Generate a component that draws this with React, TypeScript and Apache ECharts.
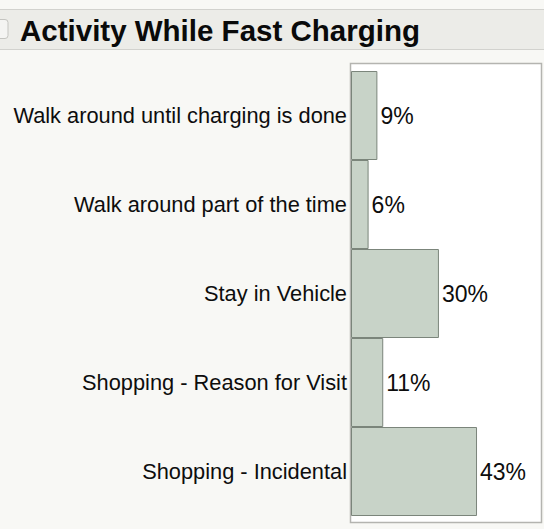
import React, { useEffect, useRef } from "react";
import * as echarts from "echarts";

const titleText = "Activity While Fast Charging";
const categories = [
  "Walk around until charging is done",
  "Walk around part of the time",
  "Stay in Vehicle",
  "Shopping - Reason for Visit",
  "Shopping - Incidental",
];
const percentValues = [9, 6, 30, 11, 43];
const axisMax = 65;

const FONT = "'Liberation Sans', Arial, Helvetica, sans-serif";

export default function App() {
  const ref = useRef<HTMLDivElement>(null);
  useEffect(() => {
    if (!ref.current) return;
    const chart = echarts.init(ref.current, undefined, { renderer: "svg" });
    chart.setOption({
      animation: false,
      backgroundColor: "#f8f8f5",
      textStyle: { fontFamily: FONT },
      graphic: [
        {
          type: "rect",
          z: 0,
          shape: { x: -1, y: 9.5, width: 546, height: 40 },
          style: { fill: "#ecece8", stroke: "#d2d2ce", lineWidth: 1 },
        },
        {
          type: "rect",
          z: 1,
          shape: { x: -4, y: 19.5, width: 12, height: 19, r: 3 },
          style: { fill: "#f4f4f2", stroke: "#c4c4c0", lineWidth: 1 },
        },
        {
          type: "text",
          z: 2,
          x: 20,
          y: 30,
          style: {
            text: titleText,
            font: `bold 29.5px ${FONT}`,
            fill: "#0a0a0a",
            verticalAlign: "middle",
            align: "left",
          },
        },
        {
          type: "rect",
          z: 0,
          shape: { x: 350.5, y: 63.5, width: 191, height: 459 },
          style: { fill: "#ffffff", stroke: "#b4b4b0", lineWidth: 1.5 },
        },
      ],
      grid: { left: 351, top: 71, right: 2.5, bottom: 13, containLabel: false },
      xAxis: {
        type: "value",
        min: 0,
        max: axisMax,
        show: false,
      },
      yAxis: {
        type: "category",
        data: categories,
        inverse: true,
        axisLine: { show: false },
        axisTick: { show: false },
        splitLine: { show: false },
        axisLabel: {
          fontSize: 21.8,
          color: "#0d0d0d",
          margin: 4,
          fontFamily: FONT,
        },
      },
      series: [
        {
          type: "bar",
          data: percentValues,
          barWidth: "100%",
          barCategoryGap: 0,
          z: 3,
          itemStyle: {
            color: "#c8d3c8",
            borderColor: "#7b857b",
            borderWidth: 1,
          },
          label: {
            show: true,
            position: "right",
            distance: 3,
            formatter: "{c}%",
            fontSize: 23,
            color: "#0d0d0d",
            fontFamily: FONT,
          },
        },
      ],
    });
    return () => chart.dispose();
  }, []);
  return (
    <div
      ref={ref}
      style={{ position: "fixed", left: 0, top: 0, width: 544, height: 529 }}
    />
  );
}
